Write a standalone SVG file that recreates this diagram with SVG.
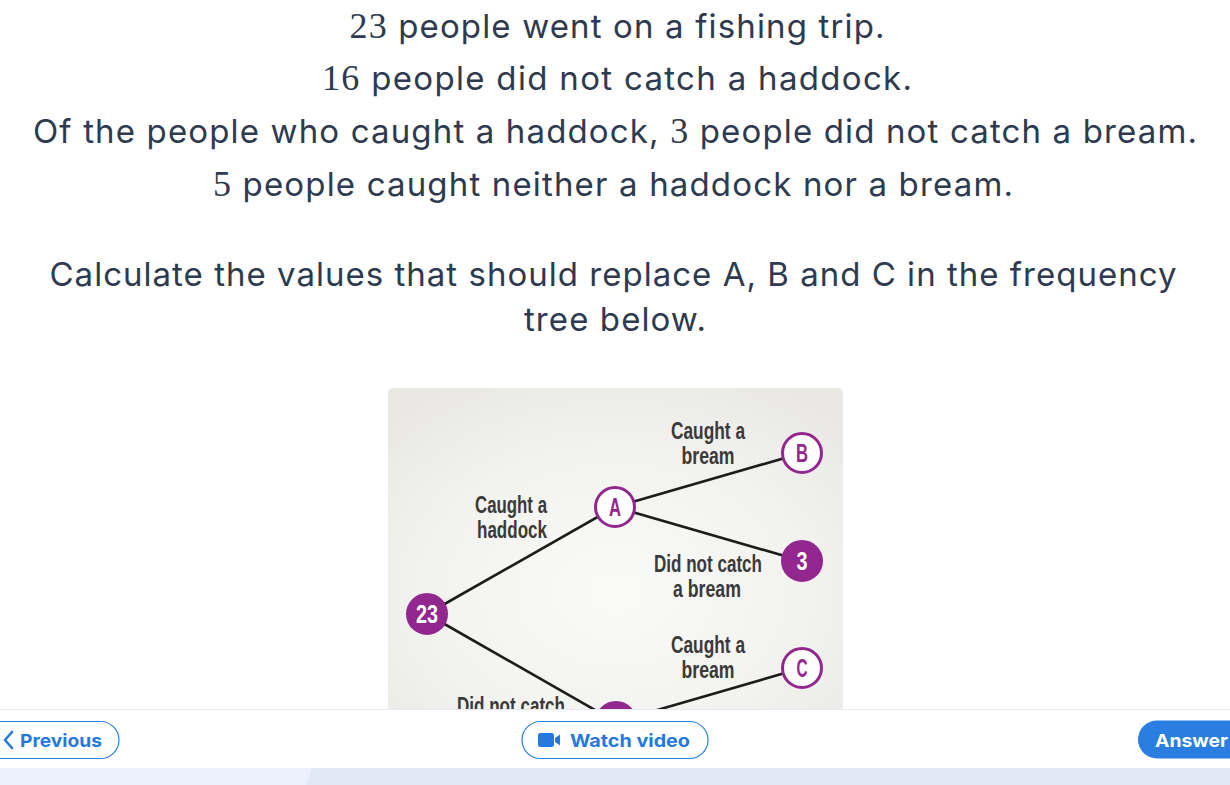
<svg xmlns="http://www.w3.org/2000/svg" width="1230" height="785" viewBox="0 0 1230 785">
<defs>
<radialGradient id="panelGrad" cx="0.5" cy="0.6" r="0.7">
<stop offset="0" stop-color="#fafaf8"/>
<stop offset="0.6" stop-color="#f2f2ef"/>
<stop offset="1" stop-color="#e9e8e4"/>
</radialGradient>
<clipPath id="panelClip"><rect x="388" y="388" width="455" height="321"/></clipPath>
</defs>
<style>
.q{font-family:Inter,"Open Sans","Liberation Sans",sans-serif;font-size:33px;fill:#2e3a4f;text-anchor:middle}
.n{font-family:"Liberation Serif","DejaVu Serif",serif;font-size:36px}
.lbl{font-family:"Liberation Sans Narrow","Liberation Sans",sans-serif;font-weight:bold;font-size:24px;fill:#3a3a3a;text-anchor:middle}
.edge{stroke:#1c1c1c;stroke-width:2.6;fill:none}
.open{fill:#ffffff;stroke:#92278f;stroke-width:3}
.filled{fill:#92278f;stroke:#92278f;stroke-width:3}
.nt{font-family:"Liberation Sans Narrow","Liberation Sans",sans-serif;font-weight:bold;font-size:26px;text-anchor:middle}
.btn{font-family:Inter,"Liberation Sans",sans-serif;font-weight:bold;font-size:18px}
</style>
<rect width="1230" height="785" fill="#ffffff"/>

<g id="question">
<text class="q" x="617" y="38" textLength="535"><tspan class="n">23</tspan> people went on a fishing trip.</text>
<text class="q" x="617" y="90" textLength="590"><tspan class="n">16</tspan> people did not catch a haddock.</text>
<text class="q" x="615" y="143" textLength="1164">Of the people who caught a haddock, <tspan class="n">3</tspan> people did not catch a bream.</text>
<text class="q" x="613" y="196" textLength="800"><tspan class="n">5</tspan> people caught neither a haddock nor a bream.</text>
<text class="q" x="613" y="286" textLength="1127">Calculate the values that should replace A, B and C in the frequency</text>
<text class="q" x="615" y="331" textLength="182">tree below.</text>
</g>

<g id="panel">
<rect x="388" y="388" width="455" height="340" rx="5" fill="url(#panelGrad)"/>
</g>

<g clip-path="url(#panelClip)">
<g id="connectors">
<line class="edge" x1="427" y1="614" x2="615" y2="507"/>
<line class="edge" x1="427" y1="614" x2="616" y2="722"/>
<line class="edge" x1="615" y1="507" x2="802" y2="453"/>
<line class="edge" x1="615" y1="507" x2="802" y2="561"/>
<line class="edge" x1="616" y1="722" x2="802" y2="668"/>
</g>

<g id="labels">
<text class="lbl" x="708" y="439" textLength="74" lengthAdjust="spacingAndGlyphs">Caught a</text>
<text class="lbl" x="708" y="464" textLength="53" lengthAdjust="spacingAndGlyphs">bream</text>
<text class="lbl" x="511" y="513" textLength="72" lengthAdjust="spacingAndGlyphs">Caught a</text>
<text class="lbl" x="512" y="538" textLength="70" lengthAdjust="spacingAndGlyphs">haddock</text>
<text class="lbl" x="708" y="572" textLength="108" lengthAdjust="spacingAndGlyphs">Did not catch</text>
<text class="lbl" x="707" y="597" textLength="68" lengthAdjust="spacingAndGlyphs">a bream</text>
<text class="lbl" x="708" y="653" textLength="74" lengthAdjust="spacingAndGlyphs">Caught a</text>
<text class="lbl" x="708" y="678" textLength="53" lengthAdjust="spacingAndGlyphs">bream</text>
<text class="lbl" x="511" y="714" textLength="108" lengthAdjust="spacingAndGlyphs">Did not catch</text>
</g>

<g id="node-23">
<circle class="filled" cx="427" cy="614" r="19.5"/>
<text class="nt" x="427" y="623" fill="#ffffff" textLength="22" lengthAdjust="spacingAndGlyphs">23</text>
</g>
<g id="node-A">
<circle class="open" cx="615" cy="507" r="19.5"/>
<text class="nt" x="615" y="516" fill="#92278f" textLength="12" lengthAdjust="spacingAndGlyphs">A</text>
</g>
<g id="node-B">
<circle class="open" cx="802" cy="453" r="19.5"/>
<text class="nt" x="802" y="462" fill="#92278f" textLength="12" lengthAdjust="spacingAndGlyphs">B</text>
</g>
<g id="node-3">
<circle class="filled" cx="802" cy="561" r="19.5"/>
<text class="nt" x="802" y="570" fill="#ffffff" textLength="11" lengthAdjust="spacingAndGlyphs">3</text>
</g>
<g id="node-C">
<circle class="open" cx="802" cy="668" r="19.5"/>
<text class="nt" x="802" y="677" fill="#92278f" textLength="11" lengthAdjust="spacingAndGlyphs">C</text>
</g>
<g id="node-D">
<circle class="filled" cx="616" cy="722" r="19.5"/>
</g>
</g>

<g id="footer">
<rect x="0" y="709" width="1230" height="59" fill="#ffffff"/>
<line x1="0" y1="709.5" x2="1230" y2="709.5" stroke="#e6eaf0" stroke-width="1"/>
<rect x="0" y="768" width="1230" height="17" fill="#e1e9f7"/>
<polygon points="0,768 312,768 306,785 0,785" fill="#ecf1fb"/>
</g>

<g id="btn-previous">
<rect x="-20" y="721.5" width="139" height="37" rx="18.5" fill="#ffffff" stroke="#2b7de0" stroke-width="1.2"/>
<polyline points="12,732 5,740 12,748" fill="none" stroke="#2479df" stroke-width="2.6" stroke-linecap="round" stroke-linejoin="round"/>
<text class="btn" x="20" y="747" fill="#2479df" textLength="82" lengthAdjust="spacingAndGlyphs">Previous</text>
</g>

<g id="btn-watch">
<rect x="522" y="721.5" width="186" height="37" rx="18.5" fill="#ffffff" stroke="#2b7de0" stroke-width="1.2"/>
<rect x="538" y="733" width="16" height="14" rx="2.5" fill="#2479df"/>
<polygon points="555,738 560,734.5 560,745.5 555,742" fill="#2479df"/>
<text class="btn" x="570" y="747" fill="#2479df" textLength="120" lengthAdjust="spacingAndGlyphs">Watch video</text>
</g>

<g id="btn-answer">
<rect x="1138" y="720.5" width="120" height="38" rx="19" fill="#2a7de1"/>
<text class="btn" x="1155" y="747" fill="#ffffff" textLength="73" lengthAdjust="spacingAndGlyphs">Answer</text>
</g>
</svg>
